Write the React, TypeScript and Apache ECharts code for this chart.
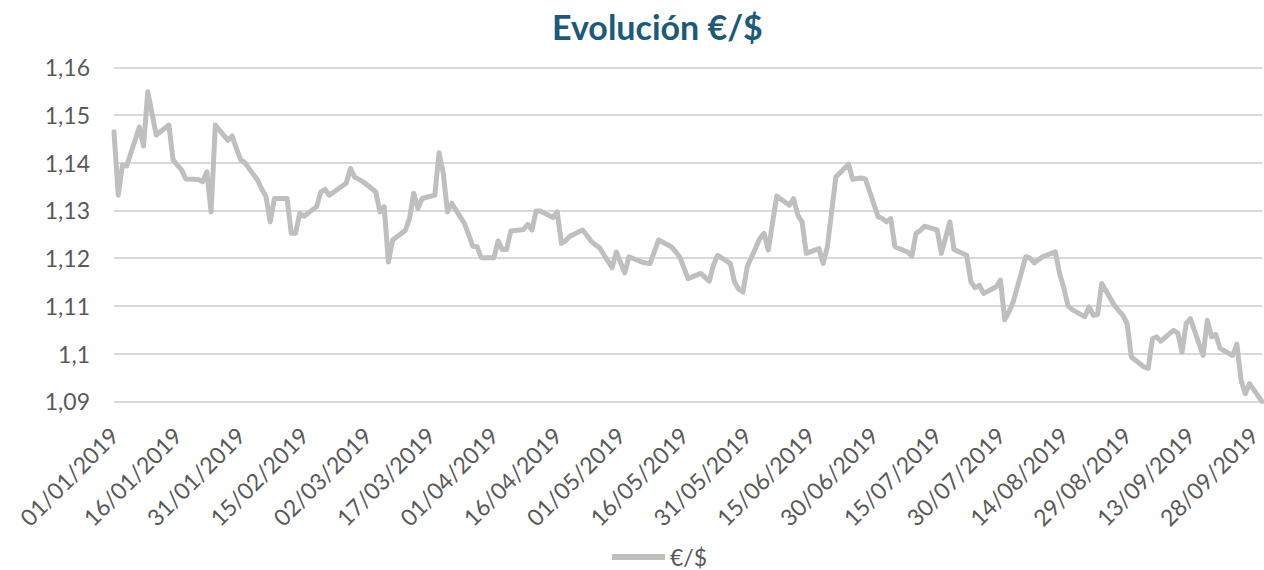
import React, { useEffect, useRef } from "react";
import * as echarts from "echarts";

// Category axis: every calendar day from 01/01/2019 to 30/09/2019
const FIRST_DAY = "2019-01-01";
const DAY_COUNT = 273;

// Y axis ticks
const Y_MIN = 1.09;
const Y_MAX = 1.16;
const Y_STEP = 0.01;

// Series €/$ (business days)
const dates = [
  "01/01/2019", "02/01/2019", "03/01/2019", "04/01/2019", "07/01/2019", "08/01/2019", "09/01/2019", "10/01/2019",
  "11/01/2019", "14/01/2019", "15/01/2019", "16/01/2019", "17/01/2019", "18/01/2019", "21/01/2019", "22/01/2019",
  "23/01/2019", "24/01/2019", "25/01/2019", "28/01/2019", "29/01/2019", "30/01/2019", "31/01/2019", "01/02/2019",
  "04/02/2019", "05/02/2019", "06/02/2019", "07/02/2019", "08/02/2019", "11/02/2019", "12/02/2019", "13/02/2019",
  "14/02/2019", "15/02/2019", "18/02/2019", "19/02/2019", "20/02/2019", "21/02/2019", "22/02/2019", "25/02/2019",
  "26/02/2019", "27/02/2019", "28/02/2019", "01/03/2019", "04/03/2019", "05/03/2019", "06/03/2019", "07/03/2019",
  "08/03/2019", "11/03/2019", "12/03/2019", "13/03/2019", "14/03/2019", "15/03/2019", "18/03/2019", "19/03/2019",
  "20/03/2019", "21/03/2019", "22/03/2019", "25/03/2019", "26/03/2019", "27/03/2019", "28/03/2019", "29/03/2019",
  "01/04/2019", "02/04/2019", "03/04/2019", "04/04/2019", "05/04/2019", "08/04/2019", "09/04/2019", "10/04/2019",
  "11/04/2019", "12/04/2019", "15/04/2019", "16/04/2019", "17/04/2019", "18/04/2019", "19/04/2019", "22/04/2019",
  "23/04/2019", "24/04/2019", "25/04/2019", "26/04/2019", "29/04/2019", "30/04/2019", "02/05/2019", "03/05/2019",
  "06/05/2019", "07/05/2019", "08/05/2019", "10/05/2019", "13/05/2019", "14/05/2019", "15/05/2019", "17/05/2019",
  "20/05/2019", "22/05/2019", "23/05/2019", "24/05/2019", "27/05/2019", "28/05/2019", "29/05/2019", "30/05/2019",
  "31/05/2019", "03/06/2019", "04/06/2019", "05/06/2019", "06/06/2019", "07/06/2019", "10/06/2019", "11/06/2019",
  "12/06/2019", "13/06/2019", "14/06/2019", "17/06/2019", "18/06/2019", "19/06/2019", "21/06/2019", "24/06/2019",
  "25/06/2019", "26/06/2019", "27/06/2019", "28/06/2019", "01/07/2019", "02/07/2019", "03/07/2019", "04/07/2019",
  "05/07/2019", "08/07/2019", "09/07/2019", "10/07/2019", "11/07/2019", "12/07/2019", "15/07/2019", "16/07/2019",
  "18/07/2019", "19/07/2019", "22/07/2019", "23/07/2019", "24/07/2019", "25/07/2019", "26/07/2019", "29/07/2019",
  "30/07/2019", "31/07/2019", "01/08/2019", "02/08/2019", "05/08/2019", "06/08/2019", "07/08/2019", "08/08/2019",
  "09/08/2019", "12/08/2019", "13/08/2019", "14/08/2019", "15/08/2019", "16/08/2019", "19/08/2019", "20/08/2019",
  "21/08/2019", "22/08/2019", "23/08/2019", "26/08/2019", "27/08/2019", "28/08/2019", "29/08/2019", "30/08/2019",
  "02/09/2019", "03/09/2019", "04/09/2019", "05/09/2019", "06/09/2019", "09/09/2019", "10/09/2019", "11/09/2019",
  "12/09/2019", "13/09/2019", "16/09/2019", "17/09/2019", "18/09/2019", "19/09/2019", "20/09/2019", "23/09/2019",
  "24/09/2019", "25/09/2019", "26/09/2019", "27/09/2019", "30/09/2019",
];

const rates = [
  1.1465, 1.1332, 1.1395, 1.1393, 1.1475, 1.1435, 1.1549, 1.1503,
  1.1458, 1.1479, 1.1406, 1.1395, 1.1385, 1.1366, 1.1365, 1.136,
  1.1381, 1.1297, 1.1479, 1.1447, 1.1456, 1.143, 1.1406, 1.14,
  1.1364, 1.1345, 1.1329, 1.1276, 1.1325, 1.1325, 1.1252, 1.1252,
  1.1294, 1.1288, 1.1308, 1.1339, 1.1344, 1.1332, 1.1338, 1.1357,
  1.1388, 1.137, 1.1365, 1.136, 1.1339, 1.1297, 1.1308, 1.1192,
  1.1238, 1.1258, 1.1283, 1.1336, 1.1304, 1.1325, 1.1332, 1.1421,
  1.1378, 1.1297, 1.1315, 1.1273, 1.125, 1.1225, 1.1224, 1.1201,
  1.1201, 1.1236, 1.1218, 1.1218, 1.1257, 1.126, 1.1271, 1.1259,
  1.1299, 1.1299, 1.1285, 1.1297, 1.1231, 1.1237, 1.1246, 1.1259,
  1.1248, 1.1236, 1.1228, 1.1222, 1.118, 1.1213, 1.1169, 1.1203,
  1.1192, 1.119, 1.1189, 1.1238, 1.1224, 1.1214, 1.1203, 1.1157,
  1.1168, 1.1152, 1.1185, 1.1206, 1.1189, 1.115, 1.1135, 1.1129,
  1.1182, 1.1241, 1.1252, 1.1217, 1.1274, 1.133, 1.1311, 1.1325,
  1.129, 1.1276, 1.121, 1.122, 1.1189, 1.1224, 1.137, 1.1397,
  1.1365, 1.1367, 1.1368, 1.1366, 1.1287, 1.1283, 1.1276, 1.1283,
  1.1224, 1.1213, 1.1204, 1.1252, 1.1258, 1.1267, 1.1259, 1.121,
  1.1276, 1.1218, 1.1206, 1.115, 1.1138, 1.1143, 1.1126, 1.114,
  1.1154, 1.1071, 1.1087, 1.1108, 1.1203, 1.12, 1.119, 1.1197,
  1.1203, 1.1213, 1.1168, 1.1138, 1.11, 1.1092, 1.1077, 1.1098,
  1.108, 1.1082, 1.1147, 1.1101, 1.109, 1.108, 1.1063, 1.0993,
  1.0972, 1.0969, 1.1031, 1.1035, 1.1026, 1.1049, 1.1043, 1.1003,
  1.1063, 1.1073, 1.0996, 1.107, 1.1035, 1.104, 1.1011, 1.0996,
  1.102, 1.0944, 1.0916, 1.0937, 1.0899,
];

const SERIES_NAME = "€/$";
const TITLE = "Evolución €/$";

function buildCategories(): string[] {
  const out: string[] = [];
  const start = new Date(FIRST_DAY + "T12:00:00Z");
  for (let i = 0; i < DAY_COUNT; i++) {
    const d = new Date(start.getTime() + i * 86400000);
    const dd = String(d.getUTCDate()).padStart(2, "0");
    const mm = String(d.getUTCMonth() + 1).padStart(2, "0");
    out.push(`${dd}/${mm}/${d.getUTCFullYear()}`);
  }
  return out;
}

export default function App() {
  const ref = useRef<HTMLDivElement>(null);

  useEffect(() => {
    if (!ref.current) return;
    const chart = echarts.init(ref.current, null, { renderer: "svg" });
    const categories = buildCategories();
    const font = "Lato, 'Open Sans', sans-serif";
    chart.setOption({
      animation: false,
      backgroundColor: "#ffffff",
      title: {
        text: TITLE,
        left: 547,
        top: 4,
        textStyle: {
          fontFamily: font,
          fontWeight: "bold",
          fontSize: 34,
          color: "#1B5A7A",
        },
      },
      legend: {
        data: [SERIES_NAME],
        left: 612,
        top: 545,
        icon: "rect",
        itemWidth: 53,
        itemHeight: 6,
        itemGap: 4,
        padding: 0,
        textStyle: { fontFamily: font, fontSize: 23, color: "#595959", lineHeight: 24 },
      },
      grid: { left: 114, right: -6, top: 67.3, bottom: 168.7, containLabel: false },
      xAxis: {
        type: "category",
        data: categories,
        boundaryGap: false,
        axisLine: { show: false },
        axisTick: { show: false },
        splitLine: { show: false },
        axisLabel: {
          interval: 14,
          rotate: 45,
          margin: 30,
          fontFamily: font,
          fontSize: 23,
          color: "#595959",
        },
      },
      yAxis: {
        type: "value",
        min: Y_MIN,
        max: Y_MAX,
        interval: Y_STEP,
        axisLine: { show: false },
        axisTick: { show: false },
        splitLine: { lineStyle: { color: "#D9D9D9", width: 2 } },
        axisLabel: {
          margin: 24,
          fontFamily: font,
          fontSize: 23,
          color: "#595959",
          formatter: (v: number) => String(Math.round(v * 100) / 100).replace(".", ","),
        },
      },
      series: [
        {
          name: SERIES_NAME,
          type: "line",
          data: dates.map((d, i) => [d, rates[i]]),
          symbol: "none",
          showSymbol: false,
          lineStyle: { color: "#BFBFBF", width: 5, join: "round", cap: "round" },
          itemStyle: { color: "#BFBFBF" },
        },
      ],
    });
    return () => chart.dispose();
  }, []);

  return (
    <div
      ref={ref}
      style={{ position: "absolute", left: 0, top: 0, width: 1264, height: 570 }}
    />
  );
}
